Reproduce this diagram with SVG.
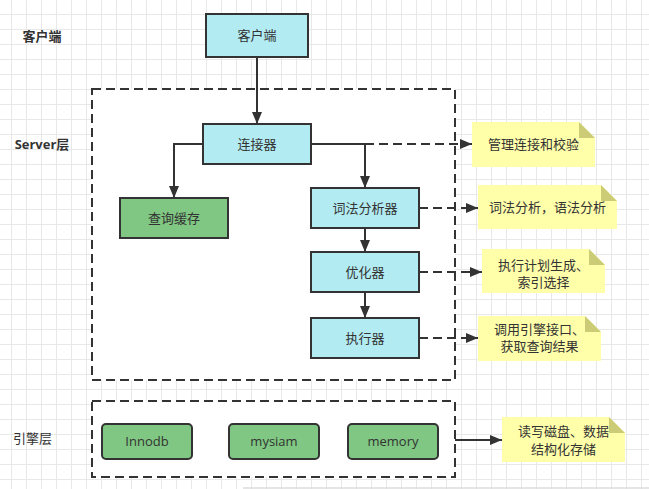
<svg xmlns="http://www.w3.org/2000/svg" width="649" height="489" viewBox="0 0 649 489">
<style>
  text { font-family: "Open Sans", "Noto Sans CJK SC", sans-serif; font-size: 13px; fill: #333333; text-anchor: middle; }
  .lbl { font-weight: bold; }
  .lblr { font-weight: normal; text-anchor: start; }
  .cyan { fill: #b2ebf2; stroke: #333333; stroke-width: 2; }
  .green { fill: #7fc782; stroke: #333333; stroke-width: 2; }
  .note { fill: #ffffaa; stroke: none; }
  .fold { fill: #cccc77; stroke: none; }
  .group { fill: #ffffff; stroke: #333333; stroke-width: 2; stroke-dasharray: 9 5; }
  .edge { fill: none; stroke: #333333; stroke-width: 2; }
  .dash { stroke-dasharray: 9 5; }
</style>
<defs>
  <pattern id="grid" width="15" height="15" patternUnits="userSpaceOnUse" x="11" y="14">
    <path d="M0 0.5H15M0.5 0V15" fill="none" stroke="#e8e8e8" stroke-width="1"/>
  </pattern>
  <marker id="arr" markerWidth="10" markerHeight="10" viewBox="0 0 10 10" refX="10" refY="5" orient="auto" markerUnits="userSpaceOnUse">
    <path d="M0 0.5L10 5L0 9.5Z" fill="#333333"/>
  </marker>
  <marker id="arrB" markerWidth="12" markerHeight="12" viewBox="0 0 12 12" refX="12" refY="6" orient="auto" markerUnits="userSpaceOnUse">
    <path d="M0 1L12 6L0 11Z" fill="#333333"/>
  </marker>
</defs>
<rect x="0" y="0" width="649" height="489" fill="#ffffff"/>
<rect x="0" y="0" width="649" height="489" fill="url(#grid)"/>
<line x1="243" y1="488" x2="649" y2="488" stroke="#dddddd" stroke-width="1.5"/>

<g id="labels">
  <text class="lbl" x="42" y="41">客户端</text>
  <text class="lbl" x="42" y="149">Server层</text>
  <text class="lblr" x="13" y="443">引擎层</text>
</g>

<g id="server-layer"><rect class="group" x="92" y="89" width="363" height="291"/></g>
<g id="engine-layer"><rect class="group" x="92" y="401" width="363" height="76"/></g>

<g id="client"><rect class="cyan" x="206" y="14" width="102" height="43"/><text x="257" y="40">客户端</text></g>
<g id="connector"><rect class="cyan" x="203" y="124" width="108" height="40"/><text x="257" y="148.5">连接器</text></g>
<g id="query-cache"><rect class="green" x="120" y="198" width="108" height="40"/><text x="174" y="222.5">查询缓存</text></g>
<g id="lexer"><rect class="cyan" x="311" y="188" width="108" height="40"/><text x="365" y="212.5">词法分析器</text></g>
<g id="optimizer"><rect class="cyan" x="311" y="252" width="108" height="40"/><text x="365" y="276.5">优化器</text></g>
<g id="executor"><rect class="cyan" x="311" y="318" width="108" height="40"/><text x="365" y="342.5">执行器</text></g>

<g id="innodb"><rect class="green" x="102" y="424" width="90" height="35" rx="4"/><text x="147" y="446">Innodb</text></g>
<g id="mysiam"><rect class="green" x="229" y="424" width="90" height="35" rx="4"/><text x="274" y="446">mysiam</text></g>
<g id="memory"><rect class="green" x="348" y="424" width="90" height="35" rx="4"/><text x="393" y="446">memory</text></g>

<g id="note1"><path class="note" d="M472 122H579L595 138V167H472Z"/><path class="fold" d="M579 122L595 138H579Z"/><text x="533.5" y="149">管理连接和校验</text></g>
<g id="note2"><path class="note" d="M478 185H601L617 201V229H478Z"/><path class="fold" d="M601 185L617 201H601Z"/><text x="547.5" y="212">词法分析，语法分析</text></g>
<g id="note3"><path class="note" d="M482 249H589L605 265V293H482Z"/><path class="fold" d="M589 249L605 265H589Z"/><text x="543.5" y="269.5">执行计划生成、</text><text x="543.5" y="286.5">索引选择</text></g>
<g id="note4"><path class="note" d="M478 316H585L601 332V361H478Z"/><path class="fold" d="M585 316L601 332H585Z"/><text x="539.5" y="333.5">调用引擎接口、</text><text x="539.5" y="350.5">获取查询结果</text></g>
<g id="note5"><path class="note" d="M502 417H609L625 433V462H502Z"/><path class="fold" d="M609 417L625 433H609Z"/><text x="563.5" y="436">读写磁盘、数据</text><text x="563.5" y="453.5">结构化存储</text></g>

<g id="connectors">
  <path class="edge" d="M257 57V124" marker-end="url(#arrB)"/>
  <path class="edge" d="M203 144H174V198" marker-end="url(#arrB)"/>
  <path class="edge" d="M311 144H365V188" marker-end="url(#arrB)"/>
  <path class="edge dash" d="M365 144H472" marker-end="url(#arrB)"/>
  <path class="edge dash" d="M419 208H478" marker-end="url(#arrB)"/>
  <path class="edge" d="M365 228V252" marker-end="url(#arrB)"/>
  <path class="edge dash" d="M419 272H482" marker-end="url(#arrB)"/>
  <path class="edge" d="M365 292V318" marker-end="url(#arrB)"/>
  <path class="edge dash" d="M419 338H478" marker-end="url(#arrB)"/>
  <path class="edge" d="M455 440H502" marker-end="url(#arrB)"/>
</g>
</svg>
